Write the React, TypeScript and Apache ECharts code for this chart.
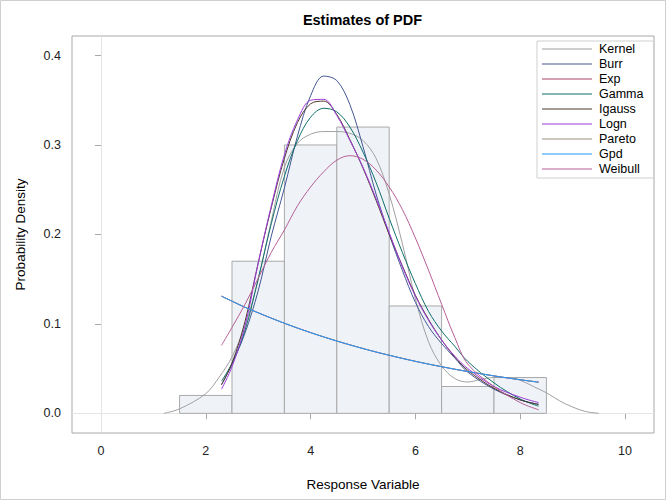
import React, { useEffect, useRef } from "react";
import * as echarts from "echarts";

// Histogram (bin midpoints, bin width 1)
const binMid = [2, 3, 4, 5, 6, 7, 8];
const binDensity = [0.02, 0.17, 0.3, 0.32, 0.12, 0.03, 0.04];

// Kernel density estimate
const kernelX = [1.2, 1.5, 2, 2.25, 2.5, 2.75, 3, 3.25, 3.5, 3.75, 4, 4.25, 4.5, 4.75, 5, 5.25, 5.5, 5.75, 6, 6.25, 6.5, 6.75, 7, 7.25, 7.5, 7.75, 8, 8.25, 8.5, 8.75, 9, 9.25, 9.5];
const kernelY = [0, 0.005, 0.022, 0.04, 0.063, 0.098, 0.15, 0.215, 0.275, 0.302, 0.312, 0.315, 0.315, 0.313, 0.305, 0.285, 0.245, 0.19, 0.128, 0.08, 0.053, 0.039, 0.035, 0.038, 0.04, 0.04, 0.037, 0.03, 0.023, 0.014, 0.007, 0.002, 0];

// Fitted densities, evaluated at fitX
const fitX = [2.3, 2.5, 2.75, 3, 3.25, 3.5, 3.75, 4, 4.25, 4.5, 4.75, 5, 5.25, 5.5, 5.75, 6, 6.25, 6.5, 6.75, 7, 7.5, 8, 8.35];
const burrY = [0.032, 0.055, 0.09, 0.137, 0.198, 0.252, 0.31, 0.355, 0.377, 0.372, 0.345, 0.298, 0.245, 0.2, 0.16, 0.124, 0.097, 0.078, 0.062, 0.046, 0.027, 0.015, 0.01];
const expY = [0.131, 0.1254, 0.1185, 0.1124, 0.1064, 0.1007, 0.0953, 0.0902, 0.0854, 0.0808, 0.0765, 0.0724, 0.0685, 0.0649, 0.0614, 0.0581, 0.055, 0.0521, 0.0493, 0.0467, 0.0418, 0.0375, 0.0348];
const gammaY = [0.036, 0.056, 0.093, 0.15, 0.212, 0.265, 0.305, 0.331, 0.341, 0.337, 0.32, 0.292, 0.258, 0.218, 0.18, 0.145, 0.114, 0.092, 0.075, 0.058, 0.034, 0.016, 0.008];
const igaussY = [0.032, 0.056, 0.103, 0.168, 0.23, 0.285, 0.325, 0.346, 0.349, 0.334, 0.306, 0.274, 0.238, 0.2, 0.165, 0.132, 0.105, 0.082, 0.063, 0.048, 0.028, 0.015, 0.01];
const lognY = [0.027, 0.052, 0.098, 0.168, 0.232, 0.289, 0.328, 0.35, 0.351, 0.333, 0.305, 0.275, 0.24, 0.202, 0.164, 0.131, 0.104, 0.082, 0.064, 0.05, 0.03, 0.018, 0.012];
const paretoY = [0.1308, 0.1253, 0.1184, 0.1123, 0.1064, 0.1007, 0.0953, 0.0903, 0.0855, 0.0809, 0.0766, 0.0725, 0.0686, 0.065, 0.0615, 0.0582, 0.0551, 0.0522, 0.0494, 0.0468, 0.0419, 0.0376, 0.0349];
const gpdY = [0.131, 0.1254, 0.1185, 0.1124, 0.1064, 0.1007, 0.0953, 0.0902, 0.0854, 0.0808, 0.0765, 0.0724, 0.0685, 0.0649, 0.0614, 0.0581, 0.055, 0.0521, 0.0493, 0.0467, 0.0418, 0.0375, 0.0348];
const weibullY = [0.076, 0.096, 0.122, 0.151, 0.18, 0.205, 0.232, 0.253, 0.27, 0.283, 0.288, 0.284, 0.272, 0.253, 0.228, 0.196, 0.16, 0.122, 0.085, 0.055, 0.03, 0.012, 0.004];

const xTicks = [0, 2, 4, 6, 8, 10];
const yTicks = [0, 0.1, 0.2, 0.3, 0.4];

const FONT = '"Liberation Sans", Arial, Helvetica, sans-serif';

const fits = [
  { name: "Burr", y: burrY, color: "#445694" },
  { name: "Exp", y: expY, color: "#B0416A" },
  { name: "Gamma", y: gammaY, color: "#0F6F6A" },
  { name: "Igauss", y: igaussY, color: "#4F3A2E" },
  { name: "Logn", y: lognY, color: "#9D3CDB" },
  { name: "Pareto", y: paretoY, color: "#9A9280" },
  { name: "Gpd", y: gpdY, color: "#2597FA" },
  { name: "Weibull", y: weibullY, color: "#B65F95" },
];

export default function App() {
  const ref = useRef<HTMLDivElement>(null);
  useEffect(() => {
    if (!ref.current) return;
    const chart = echarts.init(ref.current, null, { renderer: "svg" });
    const lineSeries: any[] = [
      {
        name: "Kernel",
        type: "line",
        data: kernelX.map((x, i) => [x, kernelY[i]]),
        smooth: 0.35,
        symbol: "none",
        showSymbol: false,
        color: "#A0A0A0",
        lineStyle: { width: 1, color: "#A0A0A0" },
        z: 3,
      },
      ...fits.map((f, k) => ({
        name: f.name,
        type: "line",
        data: fitX.map((x, i) => [x, f.y[i]]),
        smooth: 0.35,
        symbol: "none",
        showSymbol: false,
        color: f.color,
        lineStyle: { width: 1, color: f.color },
        z: 4 + k,
      })),
    ];
    chart.setOption({
      animation: false,
      backgroundColor: "#fff",
      textStyle: { fontFamily: FONT },
      graphic: [
        {
          type: "rect",
          shape: { x: 0.5, y: 0.5, width: 665, height: 499 },
          style: { fill: "none", stroke: "#CFCFCF", lineWidth: 1 },
          silent: true,
        },
        {
          type: "text",
          x: 362.5,
          y: 20,
          style: {
            text: "Estimates of PDF",
            font: `bold 14.5px ${FONT}`,
            fill: "#000",
            textAlign: "center",
            textVerticalAlign: "middle",
          },
        },
      ],
      grid: {
        left: 72,
        right: 12,
        top: 36,
        bottom: 67,
        show: true,
        borderColor: "#A8A8A8",
        borderWidth: 1,
        backgroundColor: "transparent",
      },
      legend: {
        data: ["Kernel", ...fits.map((f) => f.name)],
        orient: "vertical",
        left: 537,
        top: 41,
        icon: "rect",
        itemWidth: 50,
        itemHeight: 1.2,
        itemGap: 1,
        padding: [1, 10, 2, 5],
        borderColor: "#CFCFCF",
        borderWidth: 1,
        backgroundColor: "#fff",
        textStyle: { fontFamily: FONT, fontSize: 12.5, color: "#000", lineHeight: 14, padding: [0, 0, 0, 2] },
      },
      xAxis: {
        type: "value",
        min: -0.553,
        max: 10.553,
        name: "Response Variable",
        nameLocation: "middle",
        nameGap: 44,
        nameTextStyle: { fontFamily: FONT, fontSize: 13.5, color: "#000" },
        axisLine: { show: false },
        splitLine: { show: false },
        axisTick: { show: true, length: 6, customValues: xTicks, lineStyle: { color: "#A8A8A8" } },
        axisLabel: { customValues: xTicks, margin: 11, fontSize: 12.5, color: "#222", fontFamily: FONT },
      },
      yAxis: {
        type: "value",
        min: -0.022,
        max: 0.4218,
        name: "Probability Density",
        nameLocation: "middle",
        nameGap: 45,
        nameTextStyle: { fontFamily: FONT, fontSize: 13.5, color: "#000" },
        axisLine: { show: false },
        splitLine: { show: false },
        axisTick: { show: true, length: 6, customValues: yTicks, lineStyle: { color: "#A8A8A8" } },
        axisLabel: {
          customValues: yTicks,
          margin: 11,
          fontSize: 12.5,
          color: "#222",
          fontFamily: FONT,
          formatter: (v: number) => v.toFixed(1),
        },
      },
      series: [
        {
          name: "Histogram",
          type: "custom",
          data: binMid.map((m, i) => [m, binDensity[i]]),
          encode: { x: 0, y: 1 },
          z: 2,
          renderItem: (params: any, api: any) => {
            const c = api.value(0);
            const h = api.value(1);
            const p0 = api.coord([c - 0.5, h]);
            const p1 = api.coord([c + 0.5, 0]);
            return {
              type: "rect",
              shape: { x: p0[0], y: p0[1], width: p1[0] - p0[0], height: p1[1] - p0[1] },
              style: { fill: "#EFF3F8", stroke: "#A9A9A9", lineWidth: 1 },
            };
          },
          markLine: {
            silent: true,
            symbol: "none",
            label: { show: false },
            lineStyle: { color: "#E4E4E4", type: "solid", width: 1 },
            data: [{ xAxis: 0 }, { yAxis: 0 }],
            z: 1,
          },
        },
        ...lineSeries,
      ],
    });
    return () => chart.dispose();
  }, []);
  return (
    <div
      ref={ref}
      style={{ position: "fixed", left: 0, top: 0, width: 666, height: 500 }}
    />
  );
}
